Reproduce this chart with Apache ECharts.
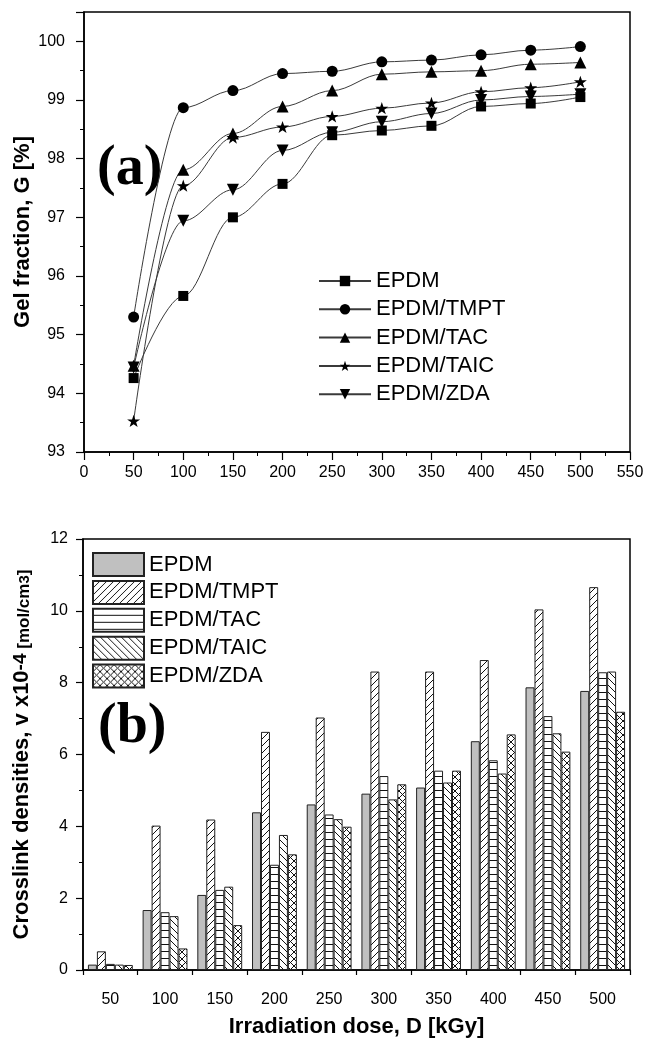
<!DOCTYPE html>
<html><head><meta charset="utf-8">
<script src="https://cdn.jsdelivr.net/npm/echarts@6/dist/echarts.min.js"></script>
<style>html,body{margin:0;padding:0;background:#fff}#c{width:646px;height:1039px}</style>
</head><body><div id="c"></div>
<script>
// ---------- data ----------
const doses = [50, 100, 150, 200, 250, 300, 350, 400, 450, 500];
const seriesNames = ['EPDM', 'EPDM/TMPT', 'EPDM/TAC', 'EPDM/TAIC', 'EPDM/ZDA'];
// (a) gel fraction, %
const gelEPDM = [94.26, 95.66, 97.00, 97.57, 98.40, 98.48, 98.56, 98.89, 98.94, 99.05];
const gelTMPT = [95.30, 98.87, 99.16, 99.45, 99.49, 99.65, 99.68, 99.77, 99.85, 99.91];
const gelTAC  = [94.47, 97.81, 98.43, 98.89, 99.16, 99.44, 99.48, 99.50, 99.61, 99.64];
const gelTAIC = [93.53, 97.54, 98.36, 98.54, 98.72, 98.86, 98.95, 99.14, 99.21, 99.31];
const gelZDA  = [94.44, 96.94, 97.47, 98.14, 98.45, 98.63, 98.77, 99.00, 99.06, 99.10];
// (b) crosslink density x10^-4 mol/cm3
const xlEPDM = [0.15, 1.67, 2.09, 4.39, 4.61, 4.91, 5.08, 6.37, 7.87, 7.77];
const xlTMPT = [0.52, 4.02, 4.19, 6.63, 7.03, 8.31, 8.31, 8.63, 10.04, 10.66];
const xlTAC  = [0.17, 1.61, 2.23, 2.93, 4.33, 5.40, 5.55, 5.84, 7.07, 8.29];
const xlTAIC = [0.15, 1.50, 2.32, 3.76, 4.20, 4.75, 5.22, 5.47, 6.59, 8.31];
const xlZDA  = [0.14, 0.60, 1.25, 3.22, 3.99, 5.17, 5.55, 6.56, 6.08, 7.19];

const gelSets = [gelEPDM, gelTMPT, gelTAC, gelTAIC, gelZDA];
const xlSets = [xlEPDM, xlTMPT, xlTAC, xlTAIC, xlZDA];

// ---------- styles ----------
const FONT = 'Liberation Sans, Arial, sans-serif';
const STAR = 'path://M50,0 L61.8,35.1 L98.9,35.1 L68.9,56.9 L80.3,91.9 L50,70.2 L19.7,91.9 L31.1,56.9 L1.1,35.1 L38.2,35.1 Z';
const markers = [
  {symbol: 'rect', size: 10, rotate: 0},
  {symbol: 'circle', size: 11, rotate: 0},
  {symbol: 'triangle', size: 12, rotate: 0},
  {symbol: STAR, size: 13, rotate: 0},
  {symbol: 'triangle', size: 12, rotate: 180}
];

function hatch(type) {
  const P = 7;
  const c = document.createElement('canvas');
  c.width = P; c.height = P;
  const g = c.getContext('2d');
  g.fillStyle = '#fff'; g.fillRect(0, 0, P, P);
  g.strokeStyle = '#111'; g.lineWidth = 1;
  g.beginPath();
  if (type === 'fwd' || type === 'cross') {
    g.moveTo(-1, P + 1); g.lineTo(P + 1, -1);
    g.moveTo(-1, 1); g.lineTo(1, -1);
    g.moveTo(P - 1, P + 1); g.lineTo(P + 1, P - 1);
  }
  if (type === 'back' || type === 'cross') {
    g.moveTo(-1, -1); g.lineTo(P + 1, P + 1);
    g.moveTo(P - 1, -1); g.lineTo(P + 1, 1);
    g.moveTo(-1, P - 1); g.lineTo(1, P + 1);
  }
  if (type === 'horiz') {
    g.moveTo(0, P - 0.5); g.lineTo(P, P - 0.5);
  }
  g.stroke();
  return {image: c, repeat: 'repeat'};
}
const fills = ['#c0c0c0', hatch('fwd'), hatch('horiz'), hatch('back'), hatch('cross')];
const barNames = seriesNames.map(n => n + ' ');

const axisLineStyle = {color: '#000', width: 1.5};

const series = [];
seriesNames.forEach((name, k) => {
  series.push({
    type: 'line', name: name, xAxisIndex: 0, yAxisIndex: 0,
    data: doses.map((d, i) => [d, gelSets[k][i]]),
    smooth: 0.35, smoothMonotone: 'x',
    symbol: markers[k].symbol, symbolSize: markers[k].size, symbolRotate: markers[k].rotate,
    symbolKeepAspect: true,
    lineStyle: {color: '#3a3a3a', width: 1},
    itemStyle: {color: '#000'},
    emphasis: {disabled: true}
  });
});
barNames.forEach((name, k) => {
  series.push({
    type: 'bar', name: name, xAxisIndex: 1, yAxisIndex: 1,
    data: xlSets[k],
    barGap: '0%', barCategoryGap: '18%',
    itemStyle: {color: fills[k], borderColor: '#222', borderWidth: 1},
    emphasis: {disabled: true}
  });
});

const chart = echarts.init(document.getElementById('c'), null, {renderer: 'canvas'});
chart.setOption({
  animation: false,
  backgroundColor: '#fff',
  textStyle: {fontFamily: FONT},
  grid: [
    {left: 84, top: 12, width: 546, height: 440, show: true, borderColor: '#000', borderWidth: 1.5, backgroundColor: 'transparent', containLabel: false, outerBoundsMode: 'none'},
    {left: 83, top: 539, width: 547, height: 431, show: true, borderColor: '#000', borderWidth: 1.5, backgroundColor: 'transparent', containLabel: false, outerBoundsMode: 'none'}
  ],
  legend: [
    {
      data: seriesNames, orient: 'vertical', left: 318, top: 270, padding: 0,
      itemWidth: 52, itemHeight: 13, itemGap: 6.3,
      textStyle: {fontSize: 22, lineHeight: 22, color: '#000', fontFamily: FONT},
      selectedMode: false
    },
    {
      data: barNames, orient: 'vertical', left: 92, top: 552, padding: 0,
      icon: 'rect',
      itemWidth: 51, itemHeight: 23, itemGap: 2.9,
      textStyle: {fontSize: 22, lineHeight: 22, color: '#000', fontFamily: FONT},
      formatter: n => n.trim(),
      selectedMode: false
    }
  ],
  xAxis: [
    {
      type: 'value', gridIndex: 0, min: 0, max: 550, interval: 50,
      axisLine: {show: true, lineStyle: axisLineStyle},
      axisTick: {show: true, inside: false, length: 8, lineStyle: {color: '#000', width: 1.2}},
      minorTick: {show: true, splitNumber: 2, length: 4, lineStyle: {color: '#000', width: 1}},
      axisLabel: {fontSize: 16, color: '#000', margin: 13, fontFamily: FONT},
      splitLine: {show: false}, minorSplitLine: {show: false}
    },
    {
      type: 'category', gridIndex: 1, data: doses.map(String), boundaryGap: true,
      axisLine: {show: true, lineStyle: axisLineStyle},
      axisTick: {show: true, inside: false, length: 5, alignWithLabel: false, lineStyle: {color: '#000', width: 1.2}},
      axisLabel: {fontSize: 16, color: '#000', margin: 22, fontFamily: FONT},
      splitLine: {show: false},
      name: 'Irradiation dose, D [kGy]', nameLocation: 'middle', nameGap: 46, nameMoveOverlap: false,
      nameTextStyle: {fontSize: 22, fontWeight: 'bold', color: '#000', fontFamily: FONT}
    }
  ],
  yAxis: [
    {
      type: 'value', gridIndex: 0, min: 93, max: 100.5, interval: 1,
      axisLine: {show: true, lineStyle: axisLineStyle},
      axisTick: {show: true, inside: false, length: 8, lineStyle: {color: '#000', width: 1.2}},
      minorTick: {show: true, splitNumber: 2, length: 4, lineStyle: {color: '#000', width: 1}},
      axisLabel: {fontSize: 16, color: '#000', margin: 19, fontFamily: FONT,
        formatter: v => (Math.abs(v - Math.round(v)) < 1e-9 ? String(Math.round(v)) : '')},
      splitLine: {show: false}, minorSplitLine: {show: false},
      name: 'Gel fraction, G [%]', nameLocation: 'middle', nameGap: 50, nameMoveOverlap: false,
      nameTextStyle: {fontSize: 22, fontWeight: 'bold', color: '#000', fontFamily: FONT}
    },
    {
      type: 'value', gridIndex: 1, min: 0, max: 12, interval: 2,
      axisLine: {show: true, lineStyle: axisLineStyle},
      axisTick: {show: true, inside: false, length: 7, lineStyle: {color: '#000', width: 1.2}},
      minorTick: {show: true, splitNumber: 2, length: 4, lineStyle: {color: '#000', width: 1}},
      axisLabel: {fontSize: 16, color: '#000', margin: 15, fontFamily: FONT},
      splitLine: {show: false}, minorSplitLine: {show: false},
      name: '{b|Crosslink densities, v x10}{s|-4}{u| [mol/cm}{s2|3}{u|]}',
      nameLocation: 'middle', nameGap: 50, nameMoveOverlap: false,
      nameTextStyle: {
        color: '#000', fontFamily: FONT,
        rich: {
          b: {fontSize: 22, fontWeight: 'bold', lineHeight: 22, padding: [13, 0, 0, 0], verticalAlign: 'bottom', color: '#000', fontFamily: FONT},
          s: {fontSize: 19, fontWeight: 'bold', lineHeight: 19, verticalAlign: 'top', color: '#000', fontFamily: FONT},
          u: {fontSize: 17, fontWeight: 'bold', lineHeight: 17, verticalAlign: 'bottom', color: '#000', fontFamily: FONT},
          s2: {fontSize: 15, fontWeight: 'bold', lineHeight: 15, padding: [6, 0, 0, 0], verticalAlign: 'top', color: '#000', fontFamily: FONT}
        }
      }
    }
  ],
  graphic: [
    {type: 'text', left: 97, top: 142, style: {text: '(a)', font: 'bold 56px "Liberation Serif", "Times New Roman", serif', fill: '#000'}},
    {type: 'text', left: 98, top: 700, style: {text: '(b)', font: 'bold 56px "Liberation Serif", "Times New Roman", serif', fill: '#000'}}
  ],
  series: series
});
</script>
</body></html>
